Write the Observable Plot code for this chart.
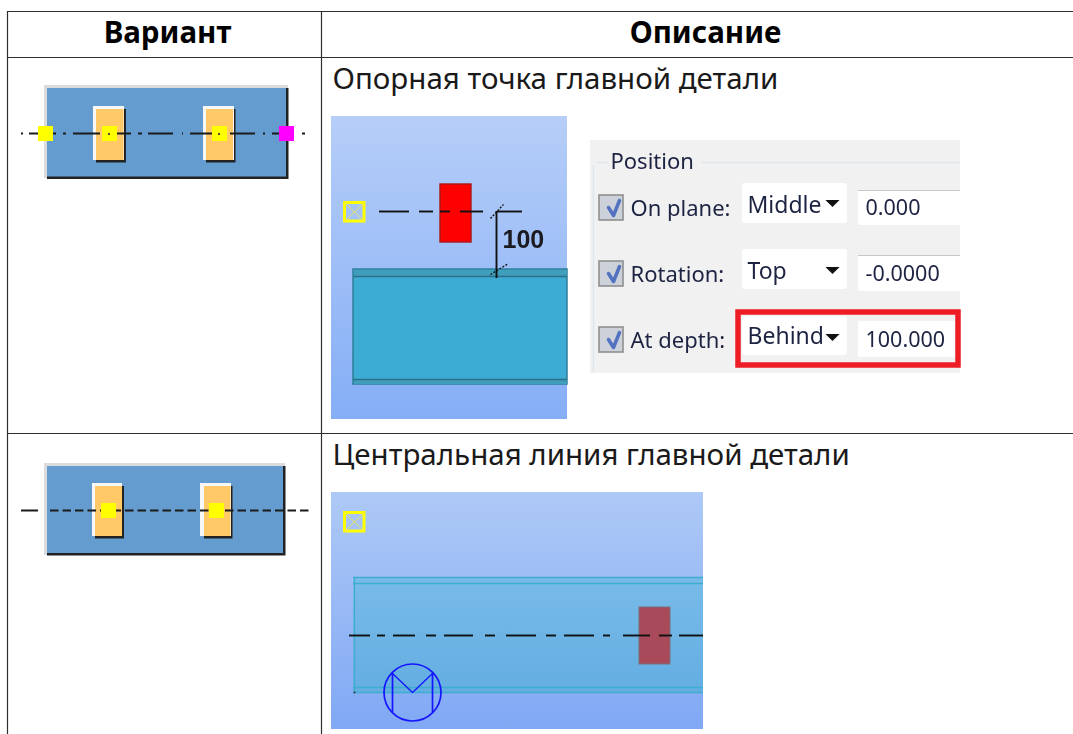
<!DOCTYPE html>
<html lang="ru">
<head>
<meta charset="utf-8">
<script src="https://cdn.jsdelivr.net/npm/d3@7"></script>
<script src="https://cdn.jsdelivr.net/npm/@observablehq/plot@0.6"></script>
<style>html,body{margin:0;padding:0;background:#fff;overflow:hidden}svg{display:block}</style>
</head>
<body>
<div id="chart"></div>
<script>
const W = 1073, H = 734;
// Table
const headers = [{x: 167, y: 42, t: "Вариант"}, {x: 705, y: 42, t: "Описание"}];
const descriptions = [{x: 332, y: 88, t: "Опорная точка главной детали"}, {x: 332, y: 464, t: "Центральная линия главной детали"}];
const tableH = [{y: 11, x1: 7, x2: 1073}, {y: 57, x1: 7, x2: 1073}, {y: 433, x1: 7, x2: 1073}];
const tableV = [{x: 7, y1: 11, y2: 734}, {x: 321, y1: 11, y2: 734}];
// Icons
const iconOuterLight = [{x1: 44, x2: 288, y1: 85, y2: 178}, {x1: 44, x2: 285, y1: 463, y2: 555}];
const iconOuterDark = [{x1: 47, x2: 288.5, y1: 88, y2: 179}, {x1: 47, x2: 285.5, y1: 466, y2: 555.5}];
const iconOuterFill = [{x1: 47, x2: 286, y1: 88, y2: 176.5}, {x1: 47, x2: 283, y1: 466, y2: 553}];
const plateLight = [{x1: 93, x2: 124, y1: 106, y2: 160}, {x1: 203, x2: 234, y1: 106, y2: 160}, {x1: 92, x2: 122, y1: 483, y2: 536}, {x1: 200, x2: 231, y1: 483, y2: 536}];
const plateDark = [{x1: 96, x2: 126, y1: 109, y2: 162.5}, {x1: 206, x2: 235.5, y1: 109, y2: 162.5}, {x1: 95, x2: 124, y1: 486, y2: 538.5}, {x1: 204, x2: 232.5, y1: 486, y2: 538.5}];
const plateFill = [{x1: 96, x2: 123.5, y1: 109, y2: 160}, {x1: 206, x2: 233, y1: 109, y2: 160}, {x1: 95, x2: 122, y1: 486, y2: 536}, {x1: 204, x2: 230.5, y1: 486, y2: 536}];
const yellowMarks = [{x1: 38, x2: 53, y1: 126, y2: 141}, {x1: 102, x2: 117, y1: 126, y2: 141}, {x1: 212, x2: 227, y1: 126, y2: 141}, {x1: 101, x2: 116, y1: 503, y2: 518}, {x1: 209, x2: 224, y1: 503, y2: 518}];
const magentaMarks = [{x1: 279, x2: 294, y1: 126, y2: 141}];
const centerDots = [{x: 108.5, y: 133.5}, {x: 218.5, y: 133.5}];
const dashDot1 = [[21, 23], [29, 38], [53, 56], [63, 66], [73, 100], [117, 131], [138, 142], [148, 173], [182, 183], [190, 213], [230, 255], [263, 265], [272, 280], [302, 305]].map(([x1, x2]) => ({y: 133, x1, x2}));
const dashed2 = [[21, 38]].map(([x1, x2]) => ({y: 510, x1, x2}));
const dashed2b = [{y: 510, x1: 50, x2: 309}];
// First screenshot
const shot1 = [{x1: 331, x2: 567, y1: 116, y2: 419}];
const shot2 = [{x1: 331, x2: 703, y1: 492, y2: 729}];
const shotMarks = [{x1: 344.5, x2: 364, y1: 202.5, y2: 221}, {x1: 344.5, x2: 364, y1: 512.5, y2: 531}];
const shotCross = [{x1: 344, y1: 202, x2: 364, y2: 221}, {x1: 364, y1: 202, x2: 344, y2: 221}, {x1: 344, y1: 512, x2: 364, y2: 531}, {x1: 364, y1: 512, x2: 344, y2: 531}];
const beam1 = [{x1: 353, x2: 567, y1: 269, y2: 384}];
const beam1Bands = [{x1: 354, x2: 567, y1: 270, y2: 276}, {x1: 354, x2: 567, y1: 379, y2: 384}];
const beam1Flanges = [{y: 276, x1: 353, x2: 567}, {y: 379, x1: 353, x2: 567}];
const redPart = [{x1: 440, x2: 471, y1: 184, y2: 242}];
const axis1 = [[379, 409], [419, 433], [440, 450], [460, 483], [497, 522]].map(([x1, x2]) => ({y: 211, x1, x2}));
const dimLine = [{x: 496, y1: 211, y2: 278}];
const dimTicks = [{x1: 490, y1: 218, x2: 503, y2: 204}, {x1: 490, y1: 274, x2: 508, y2: 263}];
const dimLabel = [{x: 502, y: 247, t: "100"}];
// Dialog panel
const panel = [{x1: 590, x2: 960, y1: 140, y2: 373}];
const groupH = [{y: 162, x1: 596, x2: 608}, {y: 162, x1: 702, x2: 960}];
const groupV = [{x: 593, y1: 165, y2: 372}];
const groupTitle = [{x: 610, y: 168, t: "Position"}];
const checks = [{x1: 599, x2: 623, y1: 195, y2: 220}, {x1: 599, x2: 623, y1: 261, y2: 286}, {x1: 599, x2: 623, y1: 327, y2: 352}];
const checkTicks = [
  {x: 608, y: 207, k: 0}, {x: 613, y: 215, k: 0}, {x: 619, y: 200, k: 0},
  {x: 608, y: 273, k: 1}, {x: 613, y: 281, k: 1}, {x: 619, y: 266, k: 1},
  {x: 608, y: 339, k: 2}, {x: 613, y: 347, k: 2}, {x: 619, y: 332, k: 2}
];
const labels = [{x: 630, y: 215, t: "On plane:"}, {x: 630, y: 281, t: "Rotation:"}, {x: 630, y: 347, t: "At depth:"}];
const selects = [{x1: 742, x2: 847, y1: 183, y2: 223}, {x1: 742, x2: 847, y1: 249, y2: 289}, {x1: 742, x2: 847, y1: 316, y2: 355}];
const selectText = [{x: 747, y: 212, t: "Middle"}, {x: 747, y: 278, t: "Top"}, {x: 747, y: 343, t: "Behind"}];
const selectArrows = [{x: 832, y: 203}, {x: 832, y: 270}, {x: 832, y: 337}];
const inputs = [{x1: 858, x2: 960, y1: 190, y2: 225}, {x1: 858, x2: 960, y1: 255, y2: 291}, {x1: 858, x2: 955, y1: 321, y2: 357}];
const inputEdges = [{y: 190, x1: 858, x2: 960}, {y: 255, x1: 858, x2: 960}];
const inputText = [{x: 865, y: 214.5, t: "0.000"}, {x: 865, y: 280.5, t: "-0.0000"}, {x: 865, y: 346.5, t: "100.000"}];
const highlight = [{x1: 738, x2: 958, y1: 312, y2: 365}];
// Second screenshot
const beam2 = [{x1: 353, x2: 703, y1: 577, y2: 692}];
const beam2Lines = [{y: 577, x1: 353, x2: 703}, {y: 583, x1: 353, x2: 703}, {y: 687, x1: 353, x2: 703}, {y: 692, x1: 353, x2: 703}];
const beam2Left = [{x: 354, y1: 577, y2: 692}];
const axis2 = [[349, 370], [377, 385], [393, 415], [426, 436], [444, 473], [485, 495], [506, 536], [546, 556], [564, 594], [603, 610], [623, 650], [659, 672], [679, 703]].map(([x1, x2]) => ({y: 635, x1, x2}));
const redPart2 = [{x1: 639, x2: 670, y1: 607, y2: 664}];
const weldCircle = [{x: 412, y: 692}];
const weldV = [{x: 392, y: 673}, {x: 412, y: 692}, {x: 432, y: 673}];
const weldBars = [{x: 392, y1: 673, y2: 712}, {x: 432, y1: 673, y2: 712}];
const pointDot = [{x: 354, y: 692}];

const xy = {x1: "x1", x2: "x2", y1: "y1", y2: "y2"};
const hr = {x1: "x1", x2: "x2", y: "y"};
const vr = {x: "x", y1: "y1", y2: "y2"};
const blur = "blur(0.45px)";
const sans = "'Noto Sans', 'Open Sans', sans-serif";
const uiText = {x: "x", y: "y", text: "t", textAnchor: "start", lineAnchor: "bottom", fontFamily: sans, fill: "#1d2342", imageFilter: "blur(0.3px)"};
const arrowSymbol = {draw(c, s) { const w = Math.sqrt(s); c.moveTo(-w, -w / 2); c.lineTo(w, -w / 2); c.lineTo(0, w / 2); c.closePath(); }};

function gradient(id, top, bottom) {
  return () => {
    const defs = d3.create("svg:defs");
    const g = defs.append("linearGradient").attr("id", id).attr("x1", 0).attr("x2", 0).attr("y1", 0).attr("y2", 1);
    g.append("stop").attr("offset", "0%").attr("stop-color", top);
    g.append("stop").attr("offset", "100%").attr("stop-color", bottom);
    return defs.node();
  };
}

const chart = Plot.plot({
  width: W, height: H,
  margin: 0,
  x: {domain: [0, W], range: [0, W], axis: null},
  y: {domain: [0, H], range: [0, H], axis: null},
  style: {background: "#fff"},
  marks: [
    gradient("gradA", "#b6cef8", "#85aef6"),
    gradient("gradB", "#aec9f6", "#80a8f4"),
    gradient("gradC", "#78bbe9", "#64aee2"),
    // table
    Plot.ruleY(tableH, {...hr, stroke: "#2f2f2f", strokeWidth: 1.2}),
    Plot.ruleX(tableV, {...vr, stroke: "#2f2f2f", strokeWidth: 1.2}),
    Plot.text(headers, {x: "x", y: "y", text: "t", fontFamily: sans, fontWeight: 700, fontSize: 29.5, fill: "#000", lineAnchor: "bottom"}),
    Plot.text(descriptions, {x: "x", y: "y", text: "t", fontFamily: sans, fontSize: 29.5, fill: "#1a1a1a", textAnchor: "start", lineAnchor: "bottom"}),
    // icons
    Plot.rect(iconOuterLight, {...xy, fill: "#dcdcdc", imageFilter: blur}),
    Plot.rect(iconOuterDark, {...xy, fill: "#222", imageFilter: blur}),
    Plot.rect(iconOuterFill, {...xy, fill: "#659ccf", imageFilter: blur}),
    Plot.rect(plateDark, {...xy, fill: "#222", imageFilter: blur}),
    Plot.rect(plateLight, {...xy, fill: "#f7f7f7", imageFilter: blur}),
    Plot.rect(plateFill, {...xy, fill: "#fec966", imageFilter: blur}),
    Plot.ruleY(dashDot1, {...hr, stroke: "#1a1a1a", strokeWidth: 2}),
    Plot.ruleY(dashed2, {...hr, stroke: "#1a1a1a", strokeWidth: 2}),
    Plot.ruleY(dashed2b, {...hr, stroke: "#1a1a1a", strokeWidth: 2, strokeDasharray: "8.5,4"}),
    Plot.rect(yellowMarks, {...xy, fill: "#ffff00"}),
    Plot.rect(magentaMarks, {...xy, fill: "#ff00ff"}),
    Plot.dot(centerDots, {x: "x", y: "y", r: 1.1, fill: "#222"}),
    // screenshot 1
    Plot.rect(shot1, {...xy, fill: "url(#gradA)"}),
    Plot.rect(beam1, {...xy, fill: "#3cacd4", stroke: "#2f7f9b", strokeWidth: 1.5, imageFilter: blur}),
    Plot.rect(beam1Bands, {...xy, fill: "#3f9ebc", imageFilter: blur}),
    Plot.ruleY(beam1Flanges, {...hr, stroke: "#2c7088", strokeWidth: 1.4, imageFilter: blur}),
    Plot.rect(redPart, {...xy, fill: "#ff0000", stroke: "#a81818", strokeWidth: 1.4, imageFilter: blur}),
    Plot.ruleY(axis1, {...hr, stroke: "#111", strokeWidth: 1.9, imageFilter: blur}),
    Plot.ruleX(dimLine, {...vr, stroke: "#111", strokeWidth: 1.9, imageFilter: blur}),
    Plot.link(dimTicks, {x1: "x1", y1: "y1", x2: "x2", y2: "y2", stroke: "#111", strokeWidth: 1.3, strokeDasharray: "2,1.5"}),
    Plot.text(dimLabel, {x: "x", y: "y", text: "t", textAnchor: "start", lineAnchor: "bottom", fontFamily: "'Liberation Sans', Arial, sans-serif", fontWeight: 700, fontSize: 25, fill: "#1a1a20", imageFilter: "blur(0.3px)"}),
    // screenshot 2
    Plot.rect(shot2, {...xy, fill: "url(#gradB)"}),
    Plot.rect(beam2, {...xy, fill: "url(#gradC)", imageFilter: blur}),
    Plot.ruleY(beam2Lines, {...hr, stroke: "#3fadd0", strokeWidth: 1.5, imageFilter: blur}),
    Plot.ruleX(beam2Left, {...vr, stroke: "#3fadd0", strokeWidth: 1.2, imageFilter: blur}),
    Plot.rect(redPart2, {...xy, fill: "#a84a5a", stroke: "#77707a", strokeWidth: 1, imageFilter: blur}),
    Plot.ruleY(axis2, {...hr, stroke: "#111", strokeWidth: 1.9, imageFilter: blur}),
    Plot.dot(weldCircle, {x: "x", y: "y", r: 28.5, fill: "none", stroke: "#1414ff", strokeWidth: 1.7, imageFilter: blur}),
    Plot.line(weldV, {x: "x", y: "y", stroke: "#1414ff", strokeWidth: 1.3, imageFilter: blur}),
    Plot.ruleX(weldBars, {...vr, stroke: "#1414ff", strokeWidth: 1.7, imageFilter: blur}),
    Plot.dot(pointDot, {x: "x", y: "y", r: 1, fill: "#334"}),
    Plot.rect(shotMarks, {...xy, fill: "none", stroke: "#ffff00", strokeWidth: 3, imageFilter: blur}),
    Plot.link(shotCross, {x1: "x1", y1: "y1", x2: "x2", y2: "y2", stroke: "#e6e65a", strokeWidth: 1, imageFilter: blur}),
    // dialog
    Plot.rect(panel, {...xy, fill: "#f1f1f1"}),
    Plot.ruleY(groupH, {...hr, stroke: "#dfe5ec", strokeWidth: 1.4}),
    Plot.ruleX(groupV, {...vr, stroke: "#dfe5ec", strokeWidth: 1.4}),
    Plot.text(groupTitle, {...uiText, fontSize: 22}),
    Plot.rect(checks, {...xy, fill: "#ccd1da", stroke: "#8f8f8f", strokeWidth: 1.6, imageFilter: blur}),
    Plot.line(checkTicks, {x: "x", y: "y", z: "k", stroke: "#5272c0", strokeWidth: 3.5, imageFilter: blur}),
    Plot.text(labels, {...uiText, fontSize: 22}),
    Plot.rect(selects, {...xy, fill: "#fff", rx: 3}),
    Plot.text(selectText, {...uiText, fontSize: 23}),
    Plot.dot(selectArrows, {x: "x", y: "y", symbol: arrowSymbol, r: 4, fill: "#111", stroke: "none"}),
    Plot.rect(inputs, {...xy, fill: "#fff", rx: 2}),
    Plot.ruleY(inputEdges, {...hr, stroke: "#c9c9c9", strokeWidth: 1}),
    Plot.text(inputText, {...uiText, fontSize: 21.5}),
    Plot.rect(highlight, {...xy, fill: "none", stroke: "#ee1c25", strokeWidth: 5.5})
  ]
});
document.getElementById("chart").appendChild(chart);
</script>
</body>
</html>
